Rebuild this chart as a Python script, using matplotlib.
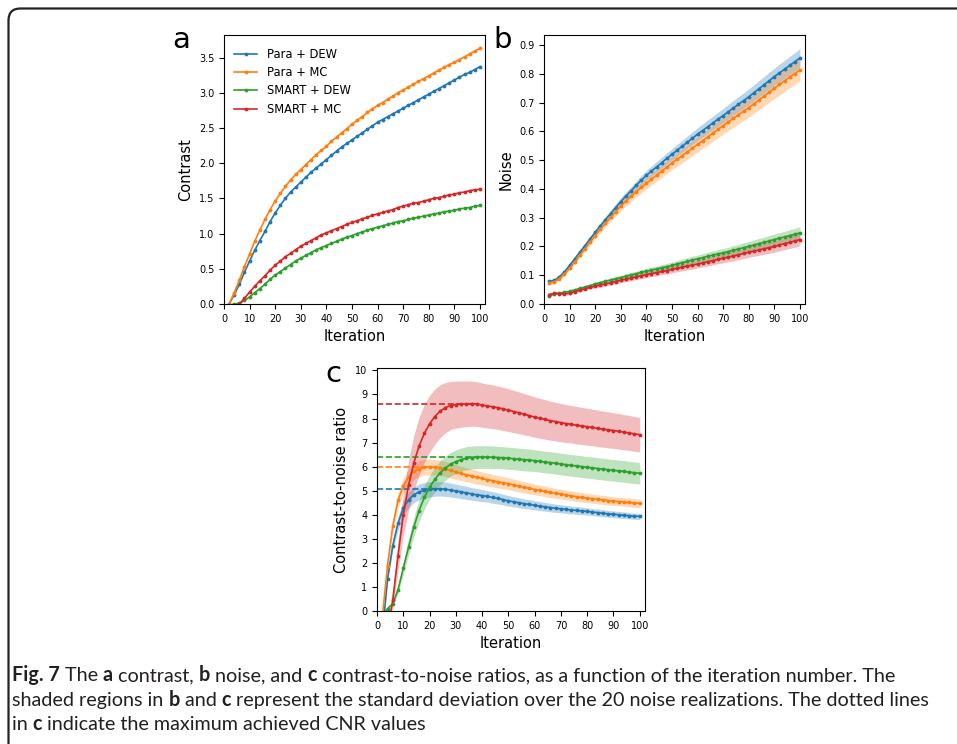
import numpy as np
import matplotlib
matplotlib.use("Agg")
import matplotlib.pyplot as plt
from matplotlib.patches import FancyBboxPatch
from matplotlib.transforms import IdentityTransform
from matplotlib.font_manager import FontProperties

# iterations (every 2nd iteration was stored)
iterations = np.arange(2, 101, 2)
labels = ["Para + DEW", "Para + MC", "SMART + DEW", "SMART + MC"]
colors = ["#1f77b4", "#ff7f0e", "#2ca02c", "#d62728"]

# (a) contrast
contrast_para_dew = [0.00, 0.13, 0.28, 0.45, 0.61, 0.76, 0.90, 1.03, 1.17, 1.29,
                     1.40, 1.50, 1.59, 1.66, 1.73, 1.80, 1.87, 1.93, 1.99, 2.05,
                     2.11, 2.17, 2.23, 2.28, 2.33, 2.38, 2.43, 2.48, 2.53, 2.58,
                     2.62, 2.66, 2.70, 2.74, 2.78, 2.82, 2.86, 2.90, 2.94, 2.98,
                     3.02, 3.06, 3.10, 3.14, 3.18, 3.22, 3.26, 3.29, 3.33, 3.37]
contrast_para_mc = [0.00, 0.16, 0.34, 0.53, 0.71, 0.89, 1.05, 1.20, 1.34, 1.46,
                    1.57, 1.67, 1.76, 1.84, 1.91, 1.98, 2.05, 2.12, 2.18, 2.24,
                    2.31, 2.37, 2.43, 2.49, 2.55, 2.61, 2.66, 2.72, 2.77, 2.82,
                    2.86, 2.91, 2.95, 3.00, 3.04, 3.08, 3.12, 3.16, 3.20, 3.24,
                    3.28, 3.32, 3.36, 3.40, 3.43, 3.47, 3.51, 3.55, 3.59, 3.63]
contrast_smart_dew = [-0.02, 0.00, 0.01, 0.05, 0.10, 0.16, 0.22, 0.28, 0.35, 0.41,
                      0.46, 0.51, 0.56, 0.61, 0.65, 0.69, 0.73, 0.77, 0.80, 0.83,
                      0.86, 0.89, 0.92, 0.95, 0.97, 1.00, 1.02, 1.05, 1.07, 1.09,
                      1.11, 1.13, 1.15, 1.17, 1.18, 1.20, 1.22, 1.23, 1.25, 1.26,
                      1.28, 1.29, 1.31, 1.32, 1.33, 1.35, 1.36, 1.37, 1.39, 1.40]
contrast_smart_mc = [-0.05, -0.02, 0.00, 0.08, 0.17, 0.25, 0.33, 0.40, 0.48, 0.55,
                     0.61, 0.67, 0.72, 0.77, 0.82, 0.86, 0.90, 0.94, 0.98, 1.01,
                     1.04, 1.07, 1.10, 1.13, 1.16, 1.18, 1.21, 1.23, 1.26, 1.28,
                     1.30, 1.32, 1.34, 1.37, 1.39, 1.41, 1.43, 1.44, 1.46, 1.48,
                     1.50, 1.51, 1.53, 1.55, 1.56, 1.58, 1.59, 1.61, 1.62, 1.63]

# (b) noise, mean and std over realizations
noise_para_dew = [0.079, 0.082, 0.094, 0.112, 0.134, 0.157, 0.180, 0.203, 0.226, 0.249,
                  0.271, 0.293, 0.314, 0.335, 0.356, 0.375, 0.393, 0.412, 0.430, 0.447,
                  0.462, 0.476, 0.491, 0.506, 0.520, 0.534, 0.548, 0.562, 0.576, 0.590,
                  0.603, 0.616, 0.629, 0.642, 0.655, 0.668, 0.681, 0.694, 0.707, 0.720,
                  0.734, 0.748, 0.762, 0.776, 0.790, 0.803, 0.816, 0.829, 0.842, 0.855]
noise_para_mc = [0.073, 0.077, 0.088, 0.104, 0.124, 0.146, 0.169, 0.192, 0.215, 0.238,
                 0.259, 0.280, 0.301, 0.321, 0.340, 0.357, 0.374, 0.390, 0.405, 0.420,
                 0.434, 0.448, 0.462, 0.476, 0.490, 0.503, 0.516, 0.529, 0.542, 0.555,
                 0.568, 0.581, 0.594, 0.607, 0.620, 0.633, 0.645, 0.658, 0.670, 0.683,
                 0.696, 0.709, 0.723, 0.736, 0.750, 0.763, 0.776, 0.789, 0.801, 0.814]
noise_smart_dew = [0.027, 0.036, 0.038, 0.041, 0.044, 0.049, 0.054, 0.059, 0.064, 0.070,
                   0.074, 0.079, 0.083, 0.088, 0.092, 0.096, 0.101, 0.105, 0.110, 0.114,
                   0.118, 0.122, 0.126, 0.130, 0.134, 0.139, 0.144, 0.148, 0.153, 0.157,
                   0.161, 0.166, 0.170, 0.174, 0.178, 0.182, 0.187, 0.191, 0.196, 0.200,
                   0.205, 0.210, 0.214, 0.219, 0.224, 0.229, 0.233, 0.238, 0.242, 0.247]
noise_smart_mc = [0.033, 0.037, 0.036, 0.035, 0.038, 0.043, 0.048, 0.053, 0.058, 0.062,
                  0.066, 0.070, 0.074, 0.078, 0.082, 0.086, 0.090, 0.094, 0.098, 0.102,
                  0.106, 0.109, 0.113, 0.116, 0.120, 0.124, 0.128, 0.132, 0.135, 0.139,
                  0.143, 0.147, 0.151, 0.155, 0.159, 0.163, 0.167, 0.171, 0.176, 0.180,
                  0.184, 0.188, 0.192, 0.196, 0.200, 0.205, 0.210, 0.214, 0.219, 0.224]

noise_std_para_dew = [0.003, 0.003, 0.004, 0.004, 0.005, 0.006, 0.007, 0.008, 0.009, 0.010,
                      0.011, 0.011, 0.012, 0.013, 0.014, 0.015, 0.015, 0.016, 0.017, 0.017,
                      0.018, 0.019, 0.019, 0.020, 0.020, 0.021, 0.021, 0.022, 0.022, 0.023,
                      0.023, 0.024, 0.024, 0.025, 0.025, 0.026, 0.026, 0.027, 0.027, 0.028,
                      0.028, 0.029, 0.029, 0.030, 0.030, 0.031, 0.031, 0.032, 0.032, 0.033]
noise_std_para_mc = [0.003, 0.004, 0.004, 0.005, 0.006, 0.007, 0.008, 0.009, 0.010, 0.011,
                     0.012, 0.013, 0.014, 0.015, 0.016, 0.017, 0.018, 0.019, 0.019, 0.020,
                     0.021, 0.021, 0.022, 0.023, 0.023, 0.024, 0.025, 0.025, 0.026, 0.027,
                     0.027, 0.028, 0.028, 0.029, 0.030, 0.030, 0.031, 0.032, 0.032, 0.033,
                     0.033, 0.034, 0.035, 0.035, 0.036, 0.037, 0.037, 0.038, 0.038, 0.039]
noise_std_smart_dew = [0.002, 0.003, 0.003, 0.003, 0.004, 0.004, 0.005, 0.005, 0.005, 0.006,
                       0.006, 0.007, 0.007, 0.007, 0.008, 0.008, 0.009, 0.009, 0.009, 0.010,
                       0.010, 0.010, 0.011, 0.011, 0.011, 0.012, 0.012, 0.013, 0.013, 0.013,
                       0.014, 0.014, 0.014, 0.015, 0.015, 0.015, 0.016, 0.016, 0.017, 0.017,
                       0.017, 0.018, 0.018, 0.019, 0.019, 0.019, 0.020, 0.020, 0.021, 0.021]
noise_std_smart_mc = [0.003, 0.004, 0.004, 0.004, 0.004, 0.004, 0.005, 0.005, 0.006, 0.006,
                      0.007, 0.007, 0.007, 0.008, 0.008, 0.009, 0.009, 0.009, 0.010, 0.010,
                      0.011, 0.011, 0.011, 0.012, 0.012, 0.012, 0.013, 0.013, 0.014, 0.014,
                      0.014, 0.015, 0.015, 0.015, 0.016, 0.016, 0.017, 0.017, 0.018, 0.018,
                      0.018, 0.019, 0.019, 0.020, 0.020, 0.020, 0.021, 0.021, 0.022, 0.022]

# (c) contrast-to-noise ratio, mean and std
cnr_para_dew = [-1.00, 1.33, 2.72, 3.65, 4.28, 4.62, 4.83, 4.95, 5.02, 5.06,
                5.08, 5.08, 5.06, 5.03, 4.99, 4.95, 4.91, 4.87, 4.83, 4.80,
                4.76, 4.72, 4.68, 4.63, 4.58, 4.54, 4.50, 4.46, 4.43, 4.39,
                4.36, 4.33, 4.30, 4.27, 4.25, 4.22, 4.20, 4.18, 4.16, 4.14,
                4.11, 4.09, 4.06, 4.04, 4.02, 4.00, 3.98, 3.96, 3.94, 3.93]
cnr_para_mc = [-0.30, 1.89, 3.54, 4.60, 5.20, 5.58, 5.80, 5.92, 5.97, 5.99,
               5.98, 5.95, 5.90, 5.84, 5.78, 5.72, 5.66, 5.61, 5.56, 5.51,
               5.46, 5.42, 5.37, 5.33, 5.29, 5.24, 5.19, 5.14, 5.10, 5.05,
               5.01, 4.97, 4.93, 4.89, 4.86, 4.82, 4.79, 4.75, 4.72, 4.69,
               4.67, 4.64, 4.62, 4.59, 4.57, 4.55, 4.53, 4.51, 4.49, 4.47]
cnr_smart_dew = [-0.30, 0.10, 0.30, 0.88, 1.78, 2.65, 3.49, 4.17, 4.72, 5.14,
                 5.47, 5.74, 5.94, 6.10, 6.21, 6.29, 6.35, 6.38, 6.40, 6.40,
                 6.40, 6.39, 6.38, 6.37, 6.35, 6.33, 6.31, 6.29, 6.27, 6.25,
                 6.22, 6.19, 6.17, 6.14, 6.11, 6.08, 6.05, 6.03, 6.00, 5.97,
                 5.95, 5.92, 5.90, 5.87, 5.85, 5.82, 5.80, 5.77, 5.75, 5.72]
cnr_smart_mc = [-1.50, -0.85, 0.46, 2.30, 4.00, 5.22, 6.15, 6.85, 7.38, 7.78,
                8.08, 8.30, 8.45, 8.54, 8.58, 8.60, 8.61, 8.62, 8.60, 8.56,
                8.52, 8.49, 8.45, 8.40, 8.35, 8.29, 8.24, 8.18, 8.12, 8.06,
                8.01, 7.96, 7.91, 7.87, 7.83, 7.79, 7.76, 7.72, 7.69, 7.66,
                7.63, 7.59, 7.56, 7.53, 7.50, 7.47, 7.43, 7.40, 7.36, 7.33]

cnr_std_para_dew = [0.10, 0.15, 0.22, 0.28, 0.32, 0.33, 0.33, 0.33, 0.32, 0.32,
                    0.31, 0.30, 0.30, 0.29, 0.28, 0.28, 0.27, 0.26, 0.26, 0.25,
                    0.24, 0.24, 0.23, 0.22, 0.22, 0.21, 0.21, 0.20, 0.20, 0.19,
                    0.19, 0.18, 0.18, 0.17, 0.17, 0.17, 0.16, 0.16, 0.16, 0.15,
                    0.15, 0.15, 0.15, 0.14, 0.14, 0.14, 0.14, 0.13, 0.13, 0.13]
cnr_std_para_mc = [0.10, 0.18, 0.25, 0.30, 0.32, 0.33, 0.33, 0.33, 0.33, 0.33,
                   0.32, 0.32, 0.31, 0.31, 0.30, 0.30, 0.29, 0.28, 0.28, 0.27,
                   0.27, 0.26, 0.26, 0.25, 0.25, 0.24, 0.24, 0.23, 0.23, 0.22,
                   0.22, 0.22, 0.21, 0.21, 0.21, 0.20, 0.20, 0.20, 0.20, 0.19,
                   0.19, 0.19, 0.19, 0.19, 0.18, 0.18, 0.18, 0.18, 0.18, 0.18]
cnr_std_smart_dew = [0.05, 0.05, 0.08, 0.15, 0.25, 0.33, 0.40, 0.45, 0.48, 0.50,
                     0.50, 0.50, 0.50, 0.49, 0.49, 0.48, 0.48, 0.48, 0.47, 0.47,
                     0.47, 0.47, 0.46, 0.46, 0.46, 0.46, 0.46, 0.46, 0.46, 0.45,
                     0.45, 0.45, 0.45, 0.45, 0.45, 0.45, 0.45, 0.45, 0.45, 0.45,
                     0.45, 0.45, 0.45, 0.45, 0.45, 0.45, 0.45, 0.45, 0.45, 0.45]
cnr_std_smart_mc = [0.10, 0.20, 0.35, 0.60, 0.85, 1.05, 1.15, 1.20, 1.20, 1.18,
                    1.15, 1.10, 1.05, 1.00, 0.98, 0.96, 0.95, 0.94, 0.93, 0.92,
                    0.91, 0.91, 0.90, 0.90, 0.89, 0.88, 0.87, 0.86, 0.85, 0.84,
                    0.83, 0.82, 0.81, 0.80, 0.80, 0.79, 0.78, 0.78, 0.77, 0.77,
                    0.76, 0.76, 0.75, 0.75, 0.74, 0.74, 0.73, 0.73, 0.72, 0.72]

contrast = [contrast_para_dew, contrast_para_mc, contrast_smart_dew, contrast_smart_mc]
noise = [noise_para_dew, noise_para_mc, noise_smart_dew, noise_smart_mc]
noise_std = [noise_std_para_dew, noise_std_para_mc, noise_std_smart_dew, noise_std_smart_mc]
cnr = [cnr_para_dew, cnr_para_mc, cnr_smart_dew, cnr_smart_mc]
cnr_std = [cnr_std_para_dew, cnr_std_para_mc, cnr_std_smart_dew, cnr_std_smart_mc]

W, H = 957, 744
fig = plt.figure(figsize=(W / 100, H / 100), dpi=100)
plt.rcParams['font.family'] = 'DejaVu Sans'


def px_axes(left, top, right, bottom):
    return fig.add_axes([left / W, 1 - bottom / H, (right - left) / W, (bottom - top) / H])


tick_size = 7
label_size = 10.5
line_kw = dict(marker='.', markersize=3.5, linewidth=1.2)

# ---- a: contrast ----
ax_a = px_axes(224, 35, 485, 304)
for y, c, lab in zip(contrast, colors, labels):
    ax_a.plot(iterations, y, color=c, label=lab, **line_kw)
ax_a.set_xlim(0, 102)
ax_a.set_ylim(0, 3.82)
ax_a.set_xticks(range(0, 101, 10))
ax_a.set_yticks(np.arange(0, 3.51, 0.5))
ax_a.set_xlabel('Iteration', fontsize=label_size)
ax_a.set_ylabel('Contrast', fontsize=label_size)
ax_a.tick_params(labelsize=tick_size)
ax_a.legend(loc='upper left', fontsize=8.3, frameon=False, labelspacing=0.45,
            bbox_to_anchor=(0.0, 0.99))

# ---- b: noise ----
ax_b = px_axes(544, 35, 805, 304)
for y, s, c in zip(noise, noise_std, colors):
    y, s = np.array(y), np.array(s)
    ax_b.fill_between(iterations, y - s, y + s, color=c, alpha=0.3, linewidth=0)
    ax_b.plot(iterations, y, color=c, **line_kw)
ax_b.set_xlim(0, 102)
ax_b.set_ylim(0, 0.935)
ax_b.set_xticks(range(0, 101, 10))
ax_b.set_yticks(np.arange(0, 0.91, 0.1))
ax_b.set_xlabel('Iteration', fontsize=label_size)
ax_b.set_ylabel('Noise', fontsize=label_size)
ax_b.tick_params(labelsize=tick_size)

# ---- c: CNR ----
ax_c = px_axes(377, 368, 645, 611)
for y, s, c in zip(cnr, cnr_std, colors):
    y, s = np.array(y), np.array(s)
    ax_c.fill_between(iterations, y - s, y + s, color=c, alpha=0.3, linewidth=0)
    ax_c.plot(iterations, y, color=c, **line_kw)
    k = np.argmax(y)
    ax_c.hlines(y[k], 0, iterations[k], colors=c, linestyles='--', linewidth=1.2)
ax_c.set_xlim(0, 102)
ax_c.set_ylim(0, 10.1)
ax_c.set_xticks(range(0, 101, 10))
ax_c.set_yticks(range(0, 11))
ax_c.set_xlabel('Iteration', fontsize=label_size)
ax_c.set_ylabel('Contrast-to-noise ratio', fontsize=label_size)
ax_c.tick_params(labelsize=tick_size)

# panel letters
for letter, x, y in [('a', 172, 48), ('b', 493, 48), ('c', 325, 382)]:
    fig.text(x / W, 1 - y / H, letter, fontsize=21, va='baseline', ha='left')

# rounded frame, open to the right and bottom
frame = FancyBboxPatch((8.5, -60), 1100, H - 8.5 + 60, boxstyle='round,pad=0,rounding_size=12',
                       transform=IdentityTransform(), fill=False, edgecolor='#222222', linewidth=1.6)
fig.add_artist(frame)

# caption with bold runs
cap_lines = [
    [('Fig. 7', True), (' The ', False), ('a', True), (' contrast, ', False), ('b', True),
     (' noise, and ', False), ('c', True),
     (' contrast-to-noise ratios, as a function of the iteration number. The', False)],
    [('shaded regions in ', False), ('b', True), (' and ', False), ('c', True),
     (' represent the standard deviation over the 20 noise realizations. The dotted lines', False)],
    [('in ', False), ('c', True), (' indicate the maximum achieved CNR values', False)],
]
cap_base = [681, 706, 730]
cap_family = 'Lato'
renderer = fig.canvas.get_renderer()


def seg_width(txt, bold, size):
    fp = FontProperties(family=cap_family, weight='bold' if bold else 'normal', size=size)
    w1 = renderer.get_text_width_height_descent('x' + txt + 'x', fp, ismath=False)[0]
    w0 = renderer.get_text_width_height_descent('xx', fp, ismath=False)[0]
    return w1 - w0


size0 = 12
w_line1 = sum(seg_width(t, b, size0) for t, b in cap_lines[0])
cap_size = size0 * 883 / w_line1

for segs, yb in zip(cap_lines, cap_base):
    x = 12
    for txt, bold in segs:
        fig.text(x / W, 1 - yb / H, txt, fontsize=cap_size, family=cap_family,
                 weight='bold' if bold else 'normal', va='baseline', ha='left', color='#231f20')
        x += seg_width(txt, bold, cap_size)

fig.savefig('out.png', dpi=100)
